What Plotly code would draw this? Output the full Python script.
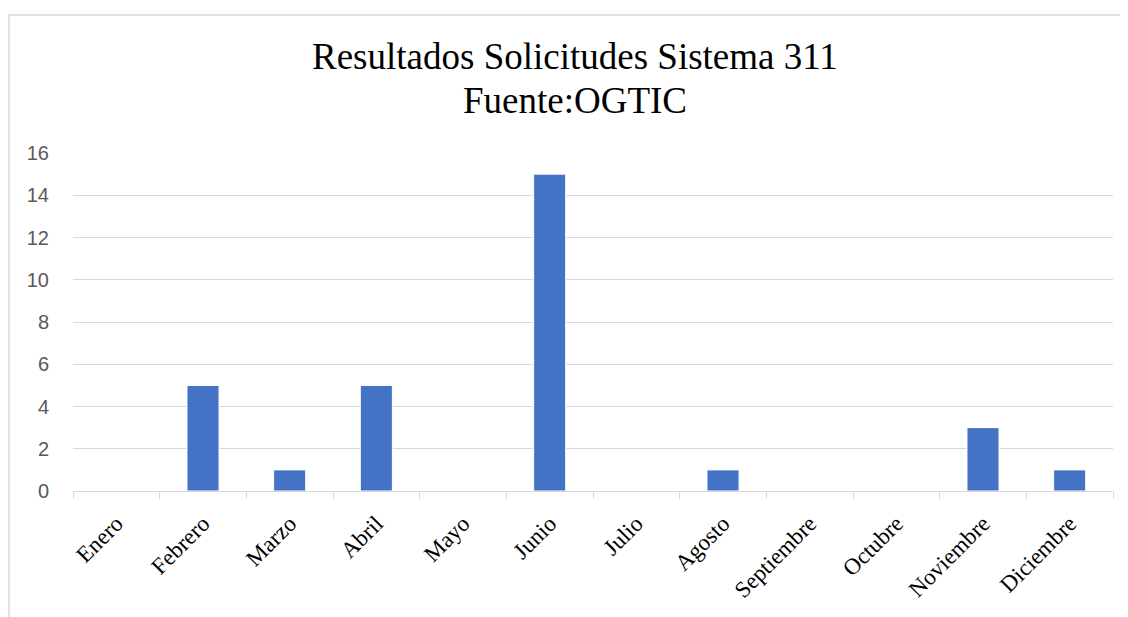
import plotly.graph_objects as go

months = ["Enero", "Febrero", "Marzo", "Abril", "Mayo", "Junio", "Julio",
          "Agosto", "Septiembre", "Octubre", "Noviembre", "Diciembre"]
values = [0, 5, 1, 5, 0, 15, 0, 1, 0, 0, 3, 1]
y_ticks = [0, 2, 4, 6, 8, 10, 12, 14, 16]
title_lines = ["Resultados Solicitudes Sistema 311", "Fuente:OGTIC"]

W, H = 1128, 617
L, R, T, B = 65, 23, 145, 134
pw, ph = W - L - R, H - T - B
OFF = 8  # page body margin

fig = go.Figure(go.Bar(
    x=months, y=values,
    marker=dict(color="#4472C4", line=dict(color="#ffffff", width=1)),
    width=0.37,
))

annots = []
for i, (txt, yc) in enumerate(zip(title_lines, [57, 100])):
    annots.append(dict(
        text=txt, xref="paper", yref="paper",
        x=(575 - OFF - L) / pw, y=1 + (T - (yc - OFF)) / ph,
        xanchor="center", yanchor="middle", showarrow=False,
        font=dict(family="Liberation Serif", size=37, color="#000000"),
    ))

fig.update_layout(
    width=W, height=H,
    margin=dict(l=L, r=R, t=T, b=B),
    paper_bgcolor="white", plot_bgcolor="white",
    showlegend=False,
    annotations=annots,
    xaxis=dict(
        type="category", showgrid=False, showline=True, linecolor="#d9d9d9", linewidth=1,
        ticks="outside", tickson="boundaries", ticklen=7, tickcolor="#d9d9d9",
        ticklabelstandoff=9,
        tickangle=-45, tickfont=dict(family="Liberation Serif", size=23, color="#000000"),
    ),
    yaxis=dict(
        range=[0, 16], tickvals=y_ticks, showgrid=True, gridcolor="#d9d9d9", gridwidth=1,
        zeroline=False, showline=False, ticks="",
        ticklabelstandoff=23,
        tickfont=dict(family="Liberation Sans", size=20, color="#595959"),
    ),
    shapes=[dict(
        type="rect", xref="paper", yref="paper",
        x0=(1 - L) / pw, x1=(W + 20 - L) / pw,
        y0=-(H + 20 - T - ph) / ph, y1=1 + (T - 7) / ph,
        line=dict(color="#d9d9d9", width=1.5), fillcolor="rgba(0,0,0,0)", layer="below",
    )],
)

fig.write_html("out.html")
